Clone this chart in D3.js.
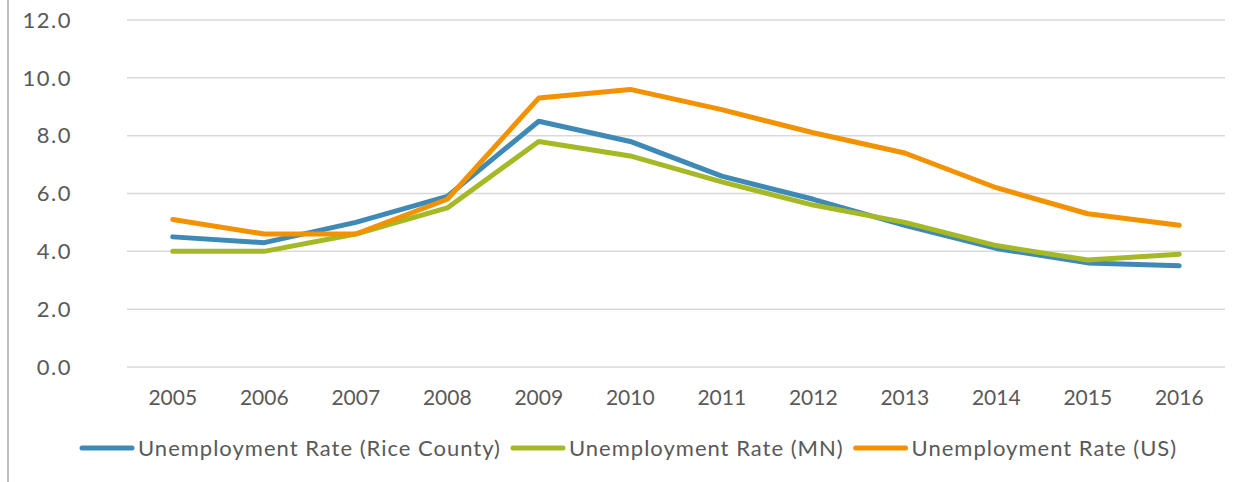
<!DOCTYPE html>
<meta charset="utf-8">
<style>
body { margin: 0; background: #fff; }
text { font-family: Lato, "Open Sans", sans-serif; fill: #595959; font-size: 22px; }
.grid line { stroke: #d9d9d9; stroke-width: 1.5px; }
.series path { fill: none; stroke-width: 5px; stroke-linejoin: round; stroke-linecap: round; }
</style>
<svg width="1250" height="482"></svg>
<script src="https://d3js.org/d3.v7.min.js"></script>
<script>
var years = ["2005","2006","2007","2008","2009","2010","2011","2012","2013","2014","2015","2016"];
var rice = [4.5, 4.3, 5.0, 5.9, 8.5, 7.8, 6.6, 5.8, 4.9, 4.1, 3.6, 3.5];
var mn   = [4.0, 4.0, 4.6, 5.5, 7.8, 7.3, 6.4, 5.6, 5.0, 4.2, 3.7, 3.9];
var us   = [5.1, 4.6, 4.6, 5.8, 9.3, 9.6, 8.9, 8.1, 7.4, 6.2, 5.3, 4.9];
var yTicks = [0, 2, 4, 6, 8, 10, 12];

var series = [
  {name: "Unemployment Rate (Rice County)", values: rice, color: "#3f89b6"},
  {name: "Unemployment Rate (MN)", values: mn, color: "#a5b926"},
  {name: "Unemployment Rate (US)", values: us, color: "#f39200"}
];

var svg = d3.select("svg");

// left frame line
svg.append("line")
    .attr("x1", 8).attr("x2", 8).attr("y1", 0).attr("y2", 482)
    .attr("stroke", "#bfbfbf").attr("stroke-width", 2);

var x = d3.scaleBand().domain(years).range([127, 1225]);
var y = d3.scaleLinear().domain([0, 12]).range([367, 20]);

svg.append("g")
    .attr("class", "grid")
  .selectAll("line")
  .data(yTicks)
  .enter().append("line")
    .attr("x1", 127).attr("x2", 1225)
    .attr("y1", function(d) { return y(d); })
    .attr("y2", function(d) { return y(d); });

svg.append("g")
  .selectAll("text")
  .data(yTicks)
  .enter().append("text")
    .attr("x", 72)
    .attr("y", function(d) { return y(d); })
    .attr("dy", "0.35em")
    .attr("text-anchor", "end")
    .style("letter-spacing", "1.5px")
    .text(function(d) { return d.toFixed(1); });

svg.append("g")
  .selectAll("text")
  .data(years)
  .enter().append("text")
    .attr("x", function(d) { return x(d) + x.bandwidth() / 2; })
    .attr("y", 405)
    .attr("text-anchor", "middle")
    .style("font-size", "21px")
    .text(function(d) { return d; });

var line = d3.line()
    .x(function(d, i) { return x(years[i]) + x.bandwidth() / 2; })
    .y(function(d) { return y(d); });

svg.append("g")
    .attr("class", "series")
  .selectAll("path")
  .data(series)
  .enter().append("path")
    .attr("stroke", function(d) { return d.color; })
    .attr("d", function(d) { return line(d.values); });

// legend
var legend = svg.append("g");
var lx = 80;
series.forEach(function(s) {
  legend.append("line")
      .attr("x1", lx + 2).attr("x2", lx + 52)
      .attr("y1", 448).attr("y2", 448)
      .attr("stroke", s.color).attr("stroke-width", 5)
      .attr("stroke-linecap", "round");
  var t = legend.append("text")
      .attr("x", lx + 58)
      .attr("y", 456)
      .style("letter-spacing", "1px")
      .text(s.name);
  lx += 58 + t.node().getComputedTextLength() + 10;
});
</script>
